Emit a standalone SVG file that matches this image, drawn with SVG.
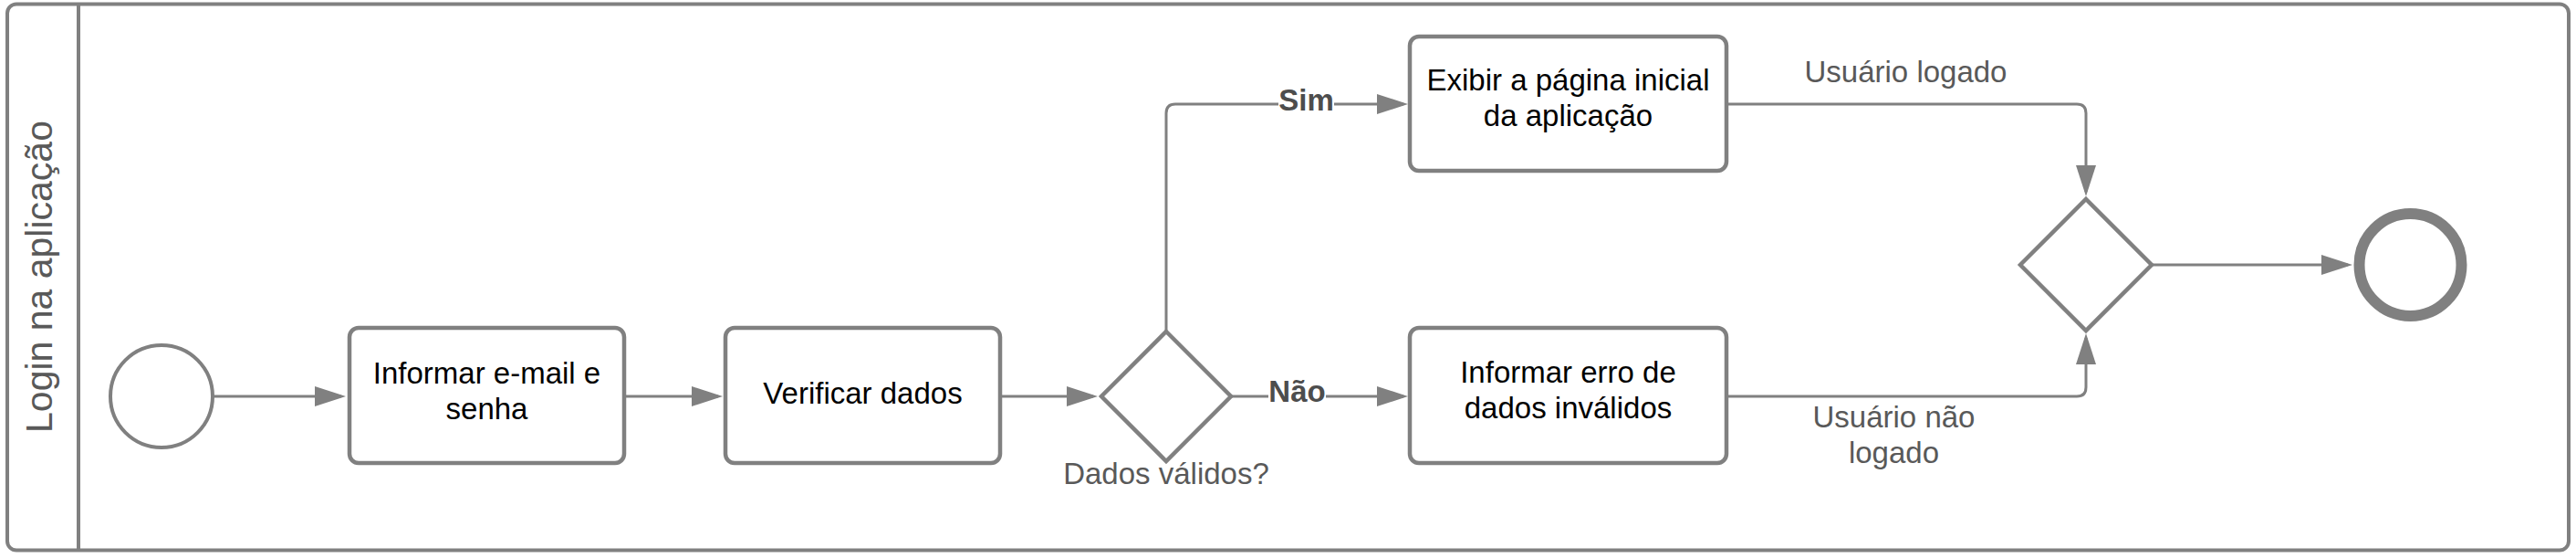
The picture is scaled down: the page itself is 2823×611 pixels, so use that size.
<svg xmlns="http://www.w3.org/2000/svg" width="2823" height="611" viewBox="0 0 2823 611">
  <style>
    .pool { fill: #ffffff; stroke: #808080; stroke-width: 4; }
    .lane { stroke: #808080; stroke-width: 4; }
    .task { fill: #ffffff; stroke: #808080; stroke-width: 4.5; }
    .gw { fill: #ffffff; stroke: #808080; stroke-width: 4.5; stroke-linejoin: miter; }
    .start { fill: #ffffff; stroke: #808080; stroke-width: 4; }
    .end { fill: #ffffff; stroke: #808080; stroke-width: 12; }
    .conn { fill: none; stroke: #808080; stroke-width: 3; }
    .t { font-family: "Liberation Sans", Arial, sans-serif; font-size: 33px; fill: #000000; text-anchor: middle; }
    .lbl { font-family: "Liberation Sans", Arial, sans-serif; font-size: 33px; fill: #595959; text-anchor: middle; }
    .blbl { font-family: "Liberation Sans", Arial, sans-serif; font-size: 33px; font-weight: bold; fill: #4d4d4d; text-anchor: middle; }
    .lanetitle { font-family: "Liberation Sans", Arial, sans-serif; font-size: 41px; fill: #595959; text-anchor: middle; }
  </style>
  <defs>
    <marker id="arrow" markerUnits="userSpaceOnUse" markerWidth="36" markerHeight="24" refX="29" refY="11" orient="auto">
      <path d="M0,0 L34,11 L0,22 Z" fill="#808080"/>
    </marker>
  </defs>

  <g id="pool">
    <rect class="pool" x="8" y="4.5" width="2807" height="598" rx="10" ry="10"/>
    <line class="lane" x1="86" y1="4.5" x2="86" y2="602.5"/>
    <text class="lanetitle" transform="translate(57,303) rotate(-90)">Login na aplicação</text>
  </g>

  <g id="connectors">
    <path class="conn" d="M233,434 H374" marker-end="url(#arrow)"/>
    <path class="conn" d="M686,434 H787" marker-end="url(#arrow)"/>
    <path class="conn" d="M1098,434 H1198" marker-end="url(#arrow)"/>
    <path class="conn" d="M1278,363 V124 Q1278,114 1288,114 H1538" marker-end="url(#arrow)"/>
    <path class="conn" d="M1349,434 H1538" marker-end="url(#arrow)"/>
    <path class="conn" d="M1894,114 H2276 Q2286,114 2286,124 V210" marker-end="url(#arrow)"/>
    <path class="conn" d="M1894,434 H2276 Q2286,434 2286,424 V370" marker-end="url(#arrow)"/>
    <path class="conn" d="M2358,290 H2573" marker-end="url(#arrow)"/>
    <g id="label-sim">
      <rect x="1401" y="96" width="61" height="32" fill="#ffffff"/>
      <text class="blbl" x="1431.5" y="121">Sim</text>
    </g>
    <g id="label-nao">
      <rect x="1390" y="412" width="63" height="34" fill="#ffffff"/>
      <text class="blbl" x="1421.5" y="440">Não</text>
    </g>
    <text class="lbl" x="2088.5" y="90">Usuário logado</text>
    <text class="lbl" x="2075.5" y="468">Usuário não</text>
    <text class="lbl" x="2075.5" y="507">logado</text>
  </g>

  <g id="start-event">
    <circle class="start" cx="177" cy="434" r="56"/>
  </g>

  <g id="task-informar-email">
    <rect class="task" x="383" y="359" width="301" height="148" rx="10" ry="10"/>
    <text class="t" x="533.5" y="420">Informar e-mail e</text>
    <text class="t" x="533.5" y="459">senha</text>
  </g>

  <g id="task-verificar">
    <rect class="task" x="795" y="359" width="301" height="148" rx="10" ry="10"/>
    <text class="t" x="945.5" y="442">Verificar dados</text>
  </g>

  <g id="gateway-dados">
    <polygon class="gw" points="1278,363 1349,434 1278,505 1207,434"/>
    <text class="lbl" x="1278" y="530">Dados válidos?</text>
  </g>

  <g id="task-exibir">
    <rect class="task" x="1545" y="40" width="347" height="147" rx="10" ry="10"/>
    <text class="t" x="1718.5" y="99">Exibir a página inicial</text>
    <text class="t" x="1718.5" y="138">da aplicação</text>
  </g>

  <g id="task-erro">
    <rect class="task" x="1545" y="359" width="347" height="148" rx="10" ry="10"/>
    <text class="t" x="1718.5" y="419">Informar erro de</text>
    <text class="t" x="1718.5" y="458">dados inválidos</text>
  </g>

  <g id="gateway-merge">
    <polygon class="gw" points="2286,218 2358,290 2286,362 2214,290"/>
  </g>

  <g id="end-event">
    <circle class="end" cx="2641.5" cy="290" r="56"/>
  </g>
</svg>
